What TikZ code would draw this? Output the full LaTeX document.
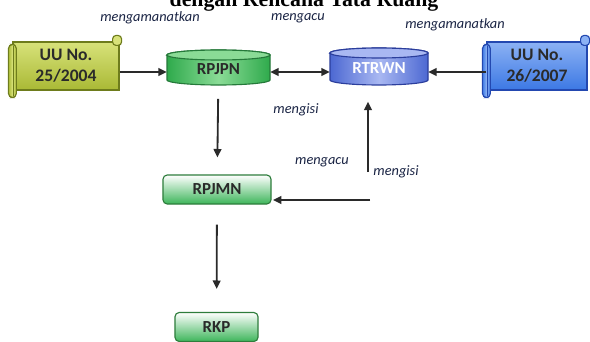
\documentclass[tikz,border=0pt]{standalone}
\usepackage{fontspec}
\setmainfont{Carlito}
\newfontfamily\headfont{Liberation Serif}
\usetikzlibrary{arrows.meta}

\definecolor{limebody}{HTML}{A9B935}
\definecolor{limelight}{HTML}{D8E27A}
\definecolor{limeedge}{HTML}{6E7C1C}
\definecolor{bluebody}{HTML}{3C78E4}
\definecolor{bluelight}{HTML}{8CB2F4}
\definecolor{blueedge}{HTML}{2348B0}
\definecolor{cylgreen}{HTML}{2FAA4C}
\definecolor{cylgreenlight}{HTML}{8ADB96}
\definecolor{cylgreenedge}{HTML}{25793A}
\definecolor{cylblue}{HTML}{4C68D2}
\definecolor{cylbluelight}{HTML}{A9B8F2}
\definecolor{cylblueedge}{HTML}{2B3E9C}
\definecolor{boxgreen}{HTML}{3DB55A}
\definecolor{boxedge}{HTML}{2E7D3C}
\definecolor{lblnavy}{HTML}{1A2444}
\definecolor{inkgrey}{HTML}{2A2A2A}

% rolls of a scroll node: #1 node, #2 colour
\newcommand{\scrollrolls}[2]{%
  \draw[#2edge, line width=0.8pt, left color=#2body, right color=#2body, middle color=#2light, rounded corners=3pt]
    ([shift={(-4,3)}]#1.north west) rectangle ([shift={(4,7)}]#1.south west);
  \draw[#2edge, line width=0.6pt] ([shift={(0.5,5)}]#1.north west) -- ([shift={(0.5,5)}]#1.south west);
  \draw[#2edge, line width=0.8pt, fill=#2light, rounded corners=2.5pt]
    ([shift={(-7,-6)}]#1.north east) rectangle ([shift={(2,4)}]#1.north east);
}

% cylinder: left x, right x, top y, bottom y, x radius, colour
\newcommand{\drawcyl}[6]{%
  \draw[#6edge, line width=0.8pt, left color=#6, right color=#6, middle color=#6light]
    (#1,#3) -- (#1,#4) arc[start angle=180, end angle=360, x radius=#5, y radius=0.125cm]
    -- (#2,#3) arc[start angle=0, end angle=180, x radius=#5, y radius=0.125cm] -- cycle;
  \draw[#6edge, line width=0.8pt, fill=#6light] ({(#1+#2)/2},#3) ellipse[x radius=#5, y radius=0.125cm];
}

\tikzset{
  scroll/.style={draw=#1edge, line width=0.8pt, top color=#1light, bottom color=#1body,
    minimum height=1.2cm, inner sep=0pt, align=center, text=inkgrey,
    font=\fontsize{12.5}{15}\selectfont\bfseries},
  cyl/.style={inner sep=0pt, font=\fontsize{12}{14}\selectfont\bfseries},
  plan/.style={draw=boxedge, line width=0.8pt, rounded corners=3pt, top color=white,
    bottom color=boxgreen, minimum height=0.725cm, inner sep=0pt, text=inkgrey,
    font=\fontsize{12}{14}\selectfont\bfseries},
  lbl/.style={font=\fontsize{10.2}{12}\selectfont\itshape, text=lblnavy},
  arr/.style={->, line width=1.3pt, draw=inkgrey},
}

\begin{document}
\begin{tikzpicture}[x=0.025cm, y=-0.025cm, >={Triangle[length=6pt, width=5.5pt]}]
  \useasboundingbox (0,0) rectangle (590,341);
  \fill[white] (0,0) rectangle (590,341);

  % Heading
  \node[anchor=base, font=\headfont\fontsize{15.5}{18}\selectfont\bfseries] (title) at (304,7) {dengan Rencana Tata Ruang};

  % Draw the laws
  \node[scroll=lime, minimum width=2.65cm] (uu25) at (66,66) {UU No.\\25/2004};
  \scrollrolls{uu25}{lime}
  \node[scroll=blue, minimum width=2.5cm] (uu26) at (537,66) {UU No.\\26/2007};
  \scrollrolls{uu26}{blue}

  % Draw the plans
  \drawcyl{167}{270}{55}{80}{1.2875cm}{cylgreen}
  \node[cyl, minimum width=2.575cm, minimum height=0.875cm, text=inkgrey] (rpjpn) at (218.5,69) {RPJPN};
  \drawcyl{330}{428}{53}{80}{1.225cm}{cylblue}
  \node[cyl, minimum width=2.45cm, minimum height=0.925cm, text=white] (rtrwn) at (379,68) {RTRWN};
  \node[plan, minimum width=2.7cm] (rpjmn) at (217,189.5) {RPJMN};
  \node[plan, minimum width=2.075cm] (rkp) at (216.5,327) {RKP};

  % Draw arrows
  \coordinate (toprow) at (0,72);
  \coordinate (fillsrc) at (368,172);
  \coordinate (accsrc) at (370,200);
  \draw[arr] (uu25.east |- toprow) -- (rpjpn.west |- toprow);
  \draw[arr, <->] (rpjpn.east |- toprow) -- (rtrwn.west |- toprow);
  \draw[arr] (uu26.west |- toprow) -- (rtrwn.east |- toprow);
  \draw[arr, shorten <=0.3cm, shorten >=0.425cm] (rpjpn) -- (rpjmn);
  \draw[arr, shorten <=0.5cm, shorten >=0.575cm] (rpjmn) -- (rkp);
  \draw[arr, shorten >=0.375cm] (fillsrc) -- (fillsrc |- rtrwn.south);
  \draw[arr, shorten >=1pt] (accsrc) -- (accsrc -| rpjmn.east);

  % Labels
  \node[lbl] (l1) at (150,18) {mengamanatkan};
  \node[lbl] (l2) at (298,18) {mengacu};
  \node[lbl] (l3) at (455,25) {mengamanatkan};
  \node[lbl] (l4) at (296,110) {mengisi};
  \node[lbl] (l5) at (322,162) {mengacu};
  \node[lbl] (l6) at (396,172) {mengisi};
\end{tikzpicture}
\end{document}
